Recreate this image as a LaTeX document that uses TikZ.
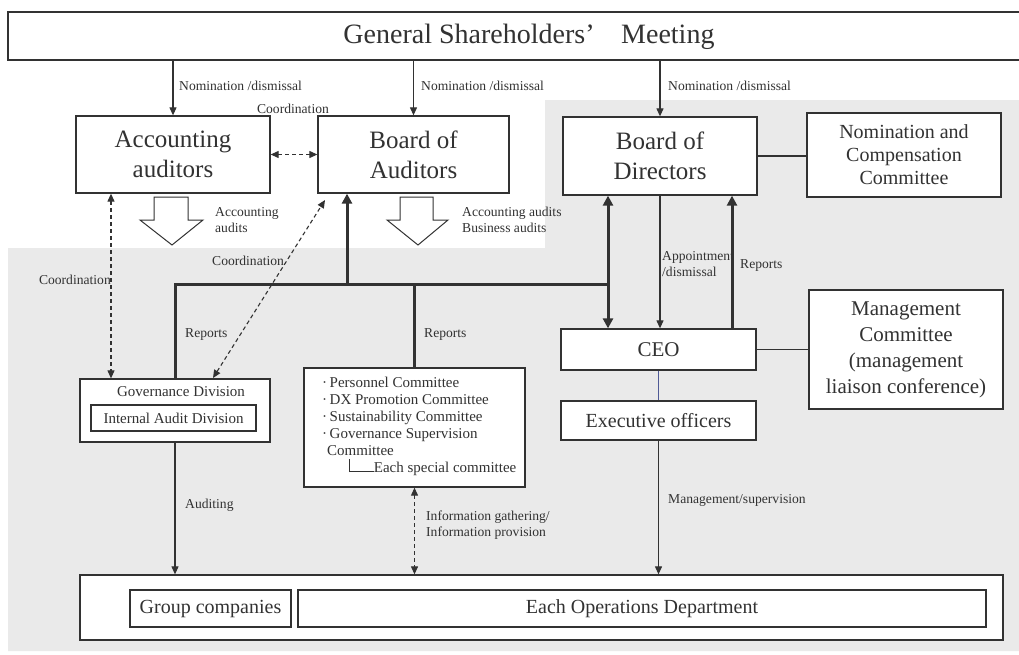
\documentclass[tikz,border=0pt]{standalone}
\usepackage{fontspec}
\setmainfont{Liberation Serif}
\usetikzlibrary{arrows.meta,calc}
\definecolor{ln}{RGB}{50,50,50}
\definecolor{bg}{RGB}{234,234,234}
\definecolor{bl}{RGB}{80,90,150}
\begin{document}
\begin{tikzpicture}[x=1pt,y=-1pt,
 box/.style={draw=ln,line width=1.3pt,fill=white,inner sep=0pt,align=center,text=ln},
 lbl/.style={font=\fontsize{13.6}{16}\selectfont,text=ln,inner sep=0pt,anchor=west,align=left},
 thinln/.style={draw=ln,line width=1.1pt},
 arr/.style={thinln,-{Triangle[length=8pt,width=7pt]}},
 thk/.style={draw=ln,line width=3pt},
 tarr/.style={thk,-{Triangle[length=10pt,width=10pt]}},
 dsh/.style={thinln,dash pattern=on 4pt off 3pt,{Triangle[length=8pt,width=7pt]}-{Triangle[length=8pt,width=7pt]}},
 hollow/.style={draw=ln,line width=1pt,fill=white},
 big/.style={font=\fontsize{25}{30}\selectfont},
 mid/.style={font=\fontsize{20}{23}\selectfont}]
\clip (0,0) rectangle (1019,654);
\fill[white] (0,0) rectangle (1019,654);
% gray background
\fill[bg] (8,248) -- (545,248) -- (545,100) -- (1019,100) -- (1019,651) -- (8,651) -- cycle;

% top box
\node[box,minimum width=1042pt,minimum height=48pt] (gsm) at (529,36) {};
\node[text=ln,inner sep=0pt,font=\fontsize{28}{32}\selectfont] (gsmt) at (529,37) {General Shareholders’\hspace{0.95em}Meeting};

% main boxes
\node[box,big,minimum width=194pt,minimum height=77pt] (acc) at (173,154.5) {Accounting\\auditors};
\node[box,big,minimum width=191pt,minimum height=77pt] (boa) at (413.5,154.5) {Board of\\Auditors};
\node[box,big,minimum width=194pt,minimum height=78pt] (bod) at (660,156) {Board of\\Directors};
\node[box,mid,minimum width=194pt,minimum height=84pt] (ncc) at (904,155) {Nomination and\\Compensation\\Committee};
\node[box,font=\fontsize{21}{24}\selectfont,minimum width=195pt,minimum height=41pt] (ceo) at (658.5,349.5) {CEO};
\node[box,mid,minimum width=195pt,minimum height=39pt] (exe) at (658.5,420.5) {Executive officers};
\node[box,font=\fontsize{21}{26}\selectfont,minimum width=194pt,minimum height=119pt] (mc) at (906,349.5) {Management\\Committee\\(management\\liaison conference)};

% governance division
\node[box,minimum width=190pt,minimum height=63pt] (gov) at (175,410.5) {};
\node[text=ln,inner sep=0pt,font=\fontsize{15}{18}\selectfont] (govt) at (181,392) {Governance Division};
\node[box,font=\fontsize{15}{18}\selectfont,minimum width=165pt,minimum height=26pt] (iad) at (173.5,418) {Internal Audit Division};

% committees
\node[box,minimum width=221pt,minimum height=119pt] (com) at (414.5,427.5) {};
\node[text=ln,inner sep=0pt,anchor=north west,align=left,font=\fontsize{15}{17}\selectfont] (comt) at (322,376.5) {%
·\,Personnel Committee\\
·\,DX Promotion Committee\\
·\,Sustainability Committee\\
·\,Governance Supervision\\
\hspace*{5pt}Committee\\
\hspace*{27pt}\rule{0.7pt}{13pt}\rule{24pt}{0.7pt}Each special committee};

% bottom
\node[box,minimum width=923pt,minimum height=65pt] (bot) at (541.5,607.5) {};
\node[box,mid,minimum width=161pt,minimum height=37pt] (grp) at (210.5,608.5) {Group companies};
\node[box,mid,minimum width=688pt,minimum height=37pt] (ops) at (642,608.5) {Each Operations Department};

% nomination arrows
\draw[arr] (gsm.south -| acc.north) -- (acc.north);
\draw[arr] (gsm.south -| boa.north) -- (boa.north);
\draw[arr] (gsm.south -| bod.north) -- (bod.north);
\node[lbl] (n1) at (179,86) {Nomination /dismissal};
\node[lbl] (n2) at (421,86) {Nomination /dismissal};
\node[lbl] (n3) at (668,86) {Nomination /dismissal};

% coordination between accounting and board of auditors
\node[lbl,anchor=center] (c1) at (293,109) {Coordination};
\draw[dsh] (acc.east) -- (boa.west);

% hollow arrows
\draw[hollow] (154,197) -- (188,197) -- (188,220) -- (203,220) -- (172,245) -- (140,220) -- (154,220) -- cycle;
\draw[hollow] (400,197) -- (433,197) -- (433,220) -- (448,220) -- (418,245) -- (387,220) -- (400,220) -- cycle;
\node[lbl] (aa1) at (215,220) {Accounting\\audits};
\node[lbl] (aa2) at (462,220) {Accounting audits\\Business audits};

% thick reporting lines
\coordinate (hl) at (0,284);
\coordinate (jB) at (347,284);
\coordinate (jR) at (608,284);
\coordinate (rx) at (732,0);
\draw[thk] (gov.north) |- (jR);
\draw[thk] (com.north) -- (com.north |- hl);
\draw[tarr] (jB) -- (jB |- boa.south);
\draw[tarr] (jR) -- (jR |- bod.south);
\draw[tarr] (jR) -- (jR |- ceo.north);
\draw[tarr] (ceo.north -| rx) -- (bod.south -| rx);
\node[lbl] (r1) at (185,334) {Reports};
\node[lbl] (r2) at (424,334) {Reports};
\node[lbl] (r3) at (740,265) {Reports};

% appointment
\draw[arr] (bod.south) -- (bod.south |- ceo.north);
\node[lbl] (ap) at (662,264.5) {Appointment\\/dismissal};

% side connections
\draw[thinln] (bod.east) -- (bod.east -| ncc.west);
\draw[thinln] (ceo.east) -- (mc.west);
\draw[draw=bl,line width=0.8pt] (ceo.south) -- (exe.north);

% coordination dashed
\coordinate (cx) at (111,0);
\draw[dsh] (acc.south -| cx) -- (gov.north -| cx);
\node[lbl,anchor=east] (c2) at (111,280) {Coordination};
\coordinate (d1) at (213,378);
\coordinate (d2) at (325,200);
\draw[dsh] (d1) -- (d2);
\node[lbl] (c3) at (212,261) {Coordination};

% bottom arrows
\draw[arr] (gov.south) -- (gov.south |- bot.north);
\node[lbl] (au) at (185,505) {Auditing};
\draw[dsh] (com.south) -- (com.south |- bot.north);
\node[lbl] (ig) at (426,525.5) {Information gathering/\\Information provision};
\draw[arr] (exe.south) -- (exe.south |- bot.north);
\node[lbl] (ms) at (668,500) {Management/supervision};
\end{tikzpicture}
\end{document}
